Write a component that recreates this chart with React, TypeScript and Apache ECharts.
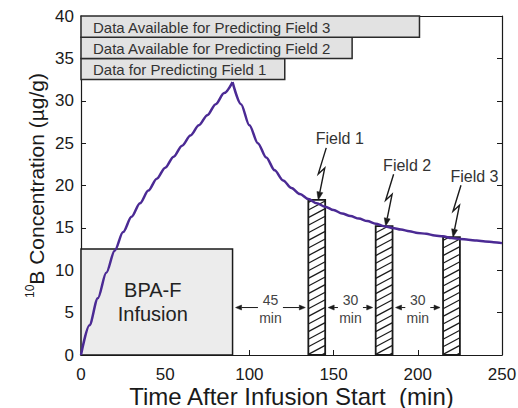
import React, { useEffect, useRef } from 'react';
import * as echarts from 'echarts';

// Concentration curve (min, µg/g)
const riseTime = [0, 5, 10, 15, 20, 25, 30, 35, 40, 45, 50, 55, 60, 65, 70, 75, 80, 85, 90];
const riseConc = [0, 3.5, 6.7, 9.7, 12.3, 14.5, 16.3, 17.9, 19.4, 20.8, 22.1, 23.4, 24.7, 25.9, 27.1, 28.3, 29.6, 30.9, 32.2];
const decayTime = [90, 95, 100, 105, 110, 115, 120, 125, 130, 135, 140, 145, 150, 155, 160, 165, 170, 175, 180, 185, 190, 195, 200, 205, 210, 215, 220, 225, 230, 235, 240, 245, 250];
const decayConc = [32.2, 29.6, 27.1, 25.0, 23.3, 21.8, 20.6, 19.7, 19.0, 18.4, 17.9, 17.5, 17.1, 16.7, 16.4, 16.1, 15.8, 15.5, 15.2, 15.0, 14.8, 14.6, 14.4, 14.3, 14.1, 14.0, 13.8, 13.7, 13.6, 13.5, 13.4, 13.3, 13.2];

// Infusion period
const infusionStart = [0];
const infusionEnd = [90];
const infusionLevel = [12.5];
const infusionLabel = ['BPA-F\nInfusion'];

// Irradiation fields
const fieldNames = ['Field 1', 'Field 2', 'Field 3'];
const fieldStart = [135, 175, 215];
const fieldEnd = [145, 185, 225];
const fieldTop = [18.3, 15.2, 13.9];

// Gaps between events
const gapFrom = [90, 145, 185];
const gapTo = [135, 175, 215];
const gapLabels = ['45\nmin', '30\nmin', '30\nmin'];
const gapLevel = [5.6, 5.6, 5.6];

// Data-availability boxes
const dataBoxLabels = ['Data for Predicting Field 1', 'Data Available for Predicting Field 2', 'Data Available for Predicting Field 3'];
const dataBoxEnd = [121, 161, 201];
const dataBoxLow = [32.5, 35, 37.5];
const dataBoxHigh = [35, 37.5, 40];

const xTicks = [0, 50, 100, 150, 200, 250];
const yTicks = [0, 5, 10, 15, 20, 25, 30, 35, 40];

const FONT = '"Liberation Sans", Arial, Helvetica, sans-serif';
const INK = '#1a1a1a';
const CURVE = '#4b2a94';

function arrowHead(tx: number, ty: number, vx: number, vy: number, len: number, half: number) {
  const n = Math.hypot(vx, vy);
  const ux = vx / n, uy = vy / n;
  const bx = tx - ux * len, by = ty - uy * len;
  const px = -uy, py = ux;
  return {
    base: [bx, by],
    poly: {
      type: 'polygon',
      shape: { points: [[tx, ty], [bx + px * half, by + py * half], [bx - px * half, by - py * half]] },
      style: { fill: INK, stroke: INK, lineWidth: 0.5 },
    },
  };
}

export default function App() {
  const ref = useRef<HTMLDivElement>(null);

  useEffect(() => {
    if (!ref.current) return;
    const chart = echarts.init(ref.current, null, { renderer: 'svg' });

    const axisCommon = {
      type: 'value',
      splitLine: { show: false },
      axisLine: { show: true, onZero: false, lineStyle: { color: INK, width: 1.2 } },
      axisTick: { show: true, inside: true, length: 5, lineStyle: { color: INK, width: 1 } },
    };

    const option: any = {
      animation: false,
      backgroundColor: '#ffffff',
      grid: { left: 81, right: 16, top: 16, bottom: 53, containLabel: false, outerBoundsMode: 'none' },
      xAxis: [
        {
          ...axisCommon,
          position: 'bottom',
          min: xTicks[0],
          max: xTicks[xTicks.length - 1],
          interval: xTicks[1] - xTicks[0],
          axisLabel: { show: true, fontSize: 17, color: INK, fontFamily: FONT, margin: 11 },
          name: 'Time After Infusion Start  (min)',
          nameLocation: 'middle',
          nameMoveOverlap: false,
          nameGap: 30,
          nameTextStyle: { fontSize: 24, lineHeight: 22, color: INK, fontFamily: FONT },
        },
        {
          ...axisCommon,
          position: 'top',
          min: xTicks[0],
          max: xTicks[xTicks.length - 1],
          interval: xTicks[1] - xTicks[0],
          axisLabel: { show: false },
        },
      ],
      yAxis: [
        {
          ...axisCommon,
          position: 'left',
          min: yTicks[0],
          max: yTicks[yTicks.length - 1],
          interval: yTicks[1] - yTicks[0],
          axisLabel: { show: true, fontSize: 17, color: INK, fontFamily: FONT, margin: 7 },
          name: '{sup|10}{b|B Concentration (µg/g)}',
          nameLocation: 'middle',
          nameMoveOverlap: false,
          nameGap: 32,
          nameTextStyle: {
            color: INK,
            fontFamily: FONT,
            rich: {
              sup: { fontSize: 12, fontFamily: FONT, color: INK, verticalAlign: 'top', lineHeight: 25 },
              b: { fontSize: 21, fontFamily: FONT, color: INK, lineHeight: 25 },
            },
          },
        },
        {
          ...axisCommon,
          position: 'right',
          min: yTicks[0],
          max: yTicks[yTicks.length - 1],
          interval: yTicks[1] - yTicks[0],
          axisLabel: { show: false },
        },
      ],
      series: [
        {
          type: 'custom',
          name: 'infusion',
          z: 1,
          data: infusionStart.map((s, i) => [s, infusionEnd[i], infusionLevel[i]]),
          encode: { x: [0, 1], y: 2 },
          renderItem: (params: any, api: any) => {
            const i = params.dataIndex;
            const a = api.coord([infusionStart[i], infusionLevel[i]]);
            const b = api.coord([infusionEnd[i], 0]);
            return {
              type: 'group',
              children: [
                {
                  type: 'rect',
                  shape: { x: a[0], y: a[1], width: b[0] - a[0], height: b[1] - a[1] },
                  style: { fill: '#ececec', stroke: INK, lineWidth: 1.5 },
                },
                {
                  type: 'text',
                  x: (a[0] + b[0]) / 2 - 4,
                  y: (a[1] + b[1]) / 2,
                  style: {
                    text: infusionLabel[i],
                    fontSize: 20,
                    fontFamily: FONT,
                    fill: '#222',
                    align: 'center',
                    verticalAlign: 'middle',
                    lineHeight: 24,
                  },
                },
              ],
            };
          },
        },
        {
          type: 'custom',
          name: 'fields',
          z: 2,
          data: fieldStart.map((s, i) => [s, fieldEnd[i], fieldTop[i]]),
          encode: { x: [0, 1], y: 2 },
          renderItem: (params: any, api: any) => {
            const i = params.dataIndex;
            const a = api.coord([fieldStart[i], fieldTop[i]]);
            const b = api.coord([fieldEnd[i], 0]);
            const x0 = a[0], x1 = b[0], yT = a[1], yB = b[1];
            const children: any[] = [
              { type: 'rect', shape: { x: x0, y: yT, width: x1 - x0, height: yB - yT }, style: { fill: '#ffffff' } },
            ];
            const d = 9, s = 7.6;
            for (let ys = yB + d - 2; ys > yT; ys -= s) {
              const uMin = Math.max(0, (ys - yB) / d);
              const uMax = Math.min(1, (ys - yT) / d);
              if (uMax <= uMin) continue;
              children.push({
                type: 'line',
                shape: {
                  x1: x0 + (x1 - x0) * uMin, y1: ys - d * uMin,
                  x2: x0 + (x1 - x0) * uMax, y2: ys - d * uMax,
                },
                style: { stroke: INK, lineWidth: 1.2 },
              });
            }
            children.push({
              type: 'rect',
              shape: { x: x0, y: yT, width: x1 - x0, height: yB - yT },
              style: { fill: 'none', stroke: INK, lineWidth: 1.8 },
            });
            // lightning arrow and label
            const tx = (x0 + x1) / 2 + 1.5, ty = yT;
            const head = arrowHead(tx, ty, -6.5, 32, 8, 3);
            children.push({
              type: 'polyline',
              shape: { points: [[tx + 8, ty - 52], [tx, ty - 26], [tx + 6.5, ty - 32], head.base] },
              style: { stroke: INK, lineWidth: 1.4, fill: 'none' },
            });
            children.push(head.poly);
            children.push({
              type: 'text',
              x: tx - 2.5,
              y: ty - 61,
              style: {
                text: fieldNames[i],
                fontSize: 16,
                fontFamily: FONT,
                fill: '#333',
                align: 'left',
                verticalAlign: 'middle',
              },
            });
            return { type: 'group', children };
          },
        },
        {
          type: 'line',
          name: 'rise',
          z: 3,
          data: riseTime.map((t, i) => [t, riseConc[i]]),
          showSymbol: false,
          smooth: 0.3,
          smoothMonotone: 'x',
          lineStyle: { color: CURVE, width: 2.5 },
        },
        {
          type: 'line',
          name: 'decay',
          z: 3,
          data: decayTime.map((t, i) => [t, decayConc[i]]),
          showSymbol: false,
          smooth: 0.3,
          smoothMonotone: 'x',
          lineStyle: { color: CURVE, width: 2.5 },
        },
        {
          type: 'custom',
          name: 'gaps',
          z: 4,
          data: gapFrom.map((s, i) => [s, gapTo[i], gapLevel[i]]),
          encode: { x: [0, 1], y: 2 },
          renderItem: (params: any, api: any) => {
            const i = params.dataIndex;
            const a = api.coord([gapFrom[i], gapLevel[i]]);
            const b = api.coord([gapTo[i], gapLevel[i]]);
            const mid = (a[0] + b[0]) / 2;
            const y = a[1];
            const la = a[0] + 3, rb = b[0] - 3;
            const hl = arrowHead(la, y, -1, 0, 6, 2.5);
            const hr = arrowHead(rb, y, 1, 0, 6, 2.5);
            return {
              type: 'group',
              children: [
                { type: 'line', shape: { x1: mid - 12.5, y1: y, x2: hl.base[0], y2: y }, style: { stroke: INK, lineWidth: 1 } },
                hl.poly,
                { type: 'line', shape: { x1: mid + 12.5, y1: y, x2: hr.base[0], y2: y }, style: { stroke: INK, lineWidth: 1 } },
                hr.poly,
                {
                  type: 'text',
                  x: mid,
                  y: y + 1,
                  style: {
                    text: gapLabels[i],
                    fontSize: 14,
                    fontFamily: FONT,
                    fill: '#444',
                    align: 'center',
                    verticalAlign: 'middle',
                    lineHeight: 18,
                  },
                },
              ],
            };
          },
        },
        {
          type: 'custom',
          name: 'dataBoxes',
          z: 4,
          data: dataBoxEnd.map((e, i) => [0, e, dataBoxLow[i], dataBoxHigh[i]]),
          encode: { x: [0, 1], y: [2, 3] },
          renderItem: (params: any, api: any) => {
            const i = params.dataIndex;
            const a = api.coord([0, dataBoxHigh[i]]);
            const b = api.coord([dataBoxEnd[i], dataBoxLow[i]]);
            return {
              type: 'group',
              children: [
                {
                  type: 'rect',
                  shape: { x: a[0], y: a[1], width: b[0] - a[0], height: b[1] - a[1] },
                  style: { fill: '#e2e2e2', stroke: '#2a2a2a', lineWidth: 1.5 },
                },
                {
                  type: 'text',
                  x: a[0] + 12,
                  y: (a[1] + b[1]) / 2 + 0.5,
                  style: {
                    text: dataBoxLabels[i],
                    fontSize: 15,
                    fontFamily: FONT,
                    fill: '#333',
                    align: 'left',
                    verticalAlign: 'middle',
                  },
                },
              ],
            };
          },
        },
      ],
    };

    chart.setOption(option);
    return () => chart.dispose();
  }, []);

  return (
    <div
      ref={ref}
      style={{ position: 'absolute', left: 0, top: 0, width: 518, height: 408, background: '#fff' }}
    />
  );
}
